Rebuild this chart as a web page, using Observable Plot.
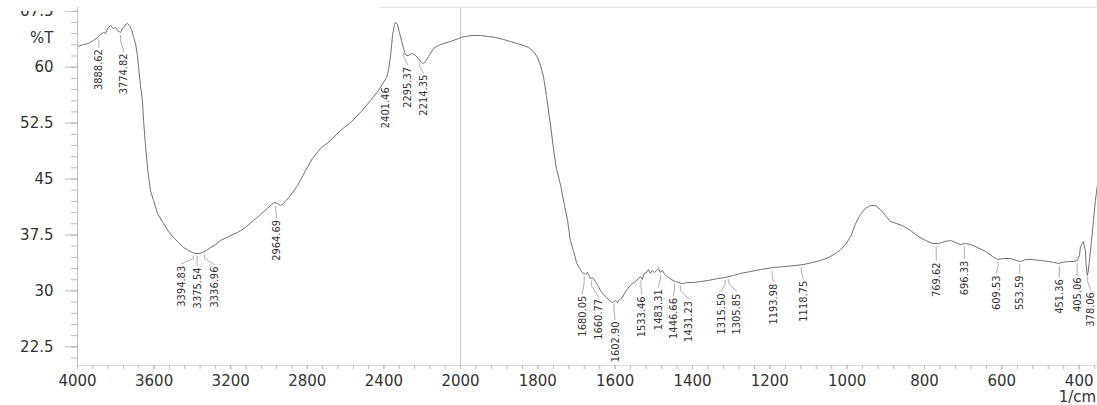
<!DOCTYPE html>
<html><head><meta charset="utf-8">
<script src="https://cdn.jsdelivr.net/npm/d3@7"></script>
<script src="https://cdn.jsdelivr.net/npm/@observablehq/plot@0.6"></script>
<style>
html,body{margin:0;padding:0;background:#fff;}
#wrap{position:relative;width:1097px;height:405px;overflow:hidden;background:#fff;}
#cut{position:absolute;left:0;top:0;width:74px;height:11px;background:#fff;}
</style></head><body>
<div id="wrap"><div id="chart"></div><div id="cut"></div></div>
<script>
// ---- data ----
const wavenumber = [3995,3969,3943,3916,3896,3880,3864,3854,3843,3828,3812,3802,3791,3775,3765,3749,3739,3728,3718,3708,3697,3687,3681,3671,3661,3655,3645,3634,3619,3603,3582,3551,3525,3499,3473,3446,3420,3399,3384,3368,3347,3326,3305,3279,3253,3211,3164,3123,3081,3044,3008,2987,2971,2956,2940,2924,2888,2851,2809,2773,2731,2679,2627,2574,2522,2470,2428,2402,2386,2376,2365,2355,2345,2339,2329,2319,2308,2292,2282,2272,2256,2240,2219,2204,2193,2183,2167,2141,2115,2089,2052,2010,2000,1987,1969,1948,1928,1909,1889,1871,1853,1837,1824,1811,1801,1793,1785,1778,1767,1759,1752,1741,1731,1723,1716,1708,1700,1692,1685,1677,1672,1664,1659,1651,1643,1638,1630,1622,1615,1607,1599,1594,1589,1581,1576,1568,1560,1555,1547,1540,1535,1530,1525,1519,1514,1509,1504,1499,1493,1488,1483,1478,1473,1467,1462,1455,1444,1436,1426,1413,1397,1379,1359,1335,1315,1294,1276,1250,1224,1191,1160,1134,1113,1090,1069,1048,1030,1017,1004,991,979,966,953,940,927,914,901,888,873,857,836,816,797,779,764,746,733,720,707,694,681,663,642,624,611,596,578,562,552,539,521,500,479,464,454,443,428,415,405,399,397,392,389,387,384,382,379,377,374,368,363,358,353];
const transmittance = [62.8,63.04,63.17,63.58,63.98,64.38,64.65,64.51,65.18,65.59,65.18,65.32,64.92,64.65,65.18,65.72,65.85,65.59,65.05,64.11,63.17,61.56,59.96,57.54,55.53,52.85,49.5,46.41,43.46,42.12,40.38,39.04,37.97,37.16,36.49,35.82,35.42,35.15,35.02,35.02,35.15,35.42,35.82,36.22,36.76,37.3,37.83,38.5,39.44,40.25,41.05,41.59,41.85,41.72,41.45,41.72,42.79,44.13,46.14,47.76,49.1,50.17,51.51,52.58,53.92,55.53,56.87,57.95,58.62,59.55,61.56,64.25,65.72,65.99,65.72,64.65,63.58,61.97,61.56,61.56,61.83,61.7,61.16,60.63,60.49,60.76,61.43,62.5,62.91,63.17,63.44,63.84,63.98,64.11,64.25,64.25,64.11,63.98,63.71,63.44,63.17,62.91,62.64,62.1,61.3,60.22,58.62,56.2,52.18,48.83,46.41,44.13,41.45,39.44,36.76,35.42,33.81,33.01,32.47,32.2,32.47,31.66,31.8,31.26,30.59,30.06,29.52,29.12,28.72,28.45,28.72,28.45,28.85,29.12,29.65,30.32,30.73,30.99,31.26,31.66,31.93,31.53,32.34,32.47,32.87,32.34,32.74,32.47,32.74,33.01,32.47,32.74,32.34,31.93,31.8,31.53,31.26,31.13,30.99,31.13,31.13,31.26,31.4,31.66,31.8,32.07,32.34,32.6,32.87,33.14,33.27,33.41,33.54,33.81,34.08,34.48,35.02,35.55,36.22,37.3,38.91,40.25,41.05,41.45,41.45,40.92,40.11,39.31,39.04,38.77,38.1,37.3,36.76,36.36,36.36,36.63,36.76,36.49,36.22,36.36,36.22,35.82,35.28,34.61,34.21,34.35,34.35,34.08,33.94,34.21,34.21,34.08,33.94,33.81,33.68,33.81,33.94,33.94,34.08,34.75,35.82,36.36,36.63,36.09,35.42,33.41,32.07,32.47,33.81,36.76,39.44,42.12,44.13];
const peakWavenumbers = [3888.62,3774.82,3394.83,3375.54,3336.96,2964.69,2401.46,2295.37,2214.35,1680.05,1660.77,1602.90,1533.46,1483.31,1446.66,1431.23,1315.50,1305.85,1193.98,1118.75,769.62,696.33,609.53,553.59,451.36,405.06,378.06];
const peakLabels = ["3888.62","3774.82","3394.83","3375.54","3336.96","2964.69","2401.46","2295.37","2214.35","1680.05","1660.77","1602.90","1533.46","1483.31","1446.66","1431.23","1315.50","1305.85","1193.98","1118.75","769.62","696.33","609.53","553.59","451.36","405.06","378.06"];
const xTicks = [4000,3600,3200,2800,2400,2000,1800,1600,1400,1200,1000,800,600,400];
const yTicks = [22.5,30,37.5,45,52.5,60,67.5];

// ---- layout (pixels) ----
const W = 1097, H = 405, marginTop = 7, marginBottom = 40, marginLeft = 77;
const xDomain = [4000, 2000, 350], xRange = [77, 460, 1098];
const yDomain = [20, 68];
// [dx, dy] of each peak label relative to the curve point, in px
const labelOffsets = [[0,13],[3,21],[-12,13],[0,14],[10,15],[1,17],[2,5],[4,17],[4,15],[-2,22],[7,21],[1,20],[1,19],[-2,17],[-1,17],[8,18],[-4,16],[8,17],[1,16],[2,16],[0,19],[0,17],[-2,16],[0,14],[0,16],[0,17],[3,18]];

const xs = d3.scaleLinear().domain(xDomain).range(xRange);
const ys = d3.scaleLinear().domain(yDomain).range([H - marginBottom, marginTop]);

const spectrum = wavenumber.map((w, i) => ({w, t: transmittance[i]}));
function tAt(w) {
  for (let i = 0; i < wavenumber.length - 1; i++) {
    const a = wavenumber[i], b = wavenumber[i + 1];
    if (w <= a && w >= b) {
      const f = (a - w) / (a - b);
      return transmittance[i] + f * (transmittance[i + 1] - transmittance[i]);
    }
  }
  return transmittance[transmittance.length - 1];
}

const labelData = [], leaderPts = [];
peakWavenumbers.forEach((w, i) => {
  const px = xs(w), py = ys(tAt(w));
  const [dx, dy] = labelOffsets[i];
  const lx = px + dx, ly = py + dy;
  labelData.push({w: xs.invert(lx), t: ys.invert(ly), label: peakLabels[i]});
  const y0 = py + 3, y1 = ly - 2;
  if (y1 > y0 + 1) {
    const ym = y0 + (y1 - y0) * 0.35;
    [[px, y0], [px, ym], [lx, y1]].forEach(([x, y]) =>
      leaderPts.push({id: i, w: xs.invert(x), t: ys.invert(y)}));
  }
});

const minorLeft = d3.range(4000, 2000, -80);
const minorRight = d3.range(2000, 340, -40);
const minorY = d3.range(21, 68.1, 1.5);

const axisFont = "DejaVu Sans, Liberation Sans, sans-serif";
const peakFont = "Liberation Sans Narrow, Arial Narrow, DejaVu Sans Condensed, Liberation Sans, sans-serif";

const chart = Plot.plot({
  width: W, height: H,
  marginTop, marginBottom, marginLeft, marginRight: 0,
  x: {type: "linear", domain: xDomain, range: xRange},
  y: {domain: yDomain},
  style: {fontFamily: axisFont, fontSize: "15px", color: "#333", background: "#fff", overflow: "visible"},
  marks: [
    Plot.ruleX([2000], {stroke: "#c8c8c8", strokeWidth: 1}),
    Plot.ruleY([68], {x1: 2420, x2: 350, stroke: "#e4e4e4"}),
    Plot.ruleX([4000], {stroke: "#c0c0c0"}),
    Plot.ruleY([20], {stroke: "#dcdcdc"}),
    Plot.axisY(minorY, {tickSize: 6, text: null, stroke: "#bbb", label: null}),
    Plot.axisY(yTicks, {tickSize: 12, tickPadding: 12, tickFormat: d => String(d), stroke: "#bbb", fill: "#333", fontSize: 15, fontFamily: axisFont, label: null}),
    Plot.axisX(minorLeft.concat(minorRight), {tickSize: 4, text: null, stroke: "#bbb", label: null}),
    Plot.axisX(xTicks, {tickSize: 4, tickPadding: 6, tickFormat: d => String(d), stroke: "#bbb", fill: "#333", fontSize: 15, fontFamily: axisFont, label: null}),
    Plot.line(spectrum, {x: "w", y: "t", stroke: "#707070", strokeWidth: 1}),
    Plot.line(leaderPts, {x: "w", y: "t", z: "id", stroke: "#9a9a9a", strokeWidth: 0.8}),
    Plot.text(labelData, {x: "w", y: "t", text: "label", rotate: -90, textAnchor: "end", lineAnchor: "middle", fontSize: 11, fontFamily: peakFont, fill: "#333"}),
    Plot.text(["%T"], {text: d => d, frameAnchor: "top-left", dx: -24, dy: 31, textAnchor: "end", lineAnchor: "middle", fontSize: 15, fontFamily: axisFont, fill: "#333"}),
    Plot.text(["1/cm"], {text: d => d, frameAnchor: "bottom-right", dx: -20, dy: 32, textAnchor: "middle", lineAnchor: "middle", fontSize: 15, fontFamily: axisFont, fill: "#333"})
  ]
});
document.getElementById("chart").appendChild(chart);
</script>
</body></html>
